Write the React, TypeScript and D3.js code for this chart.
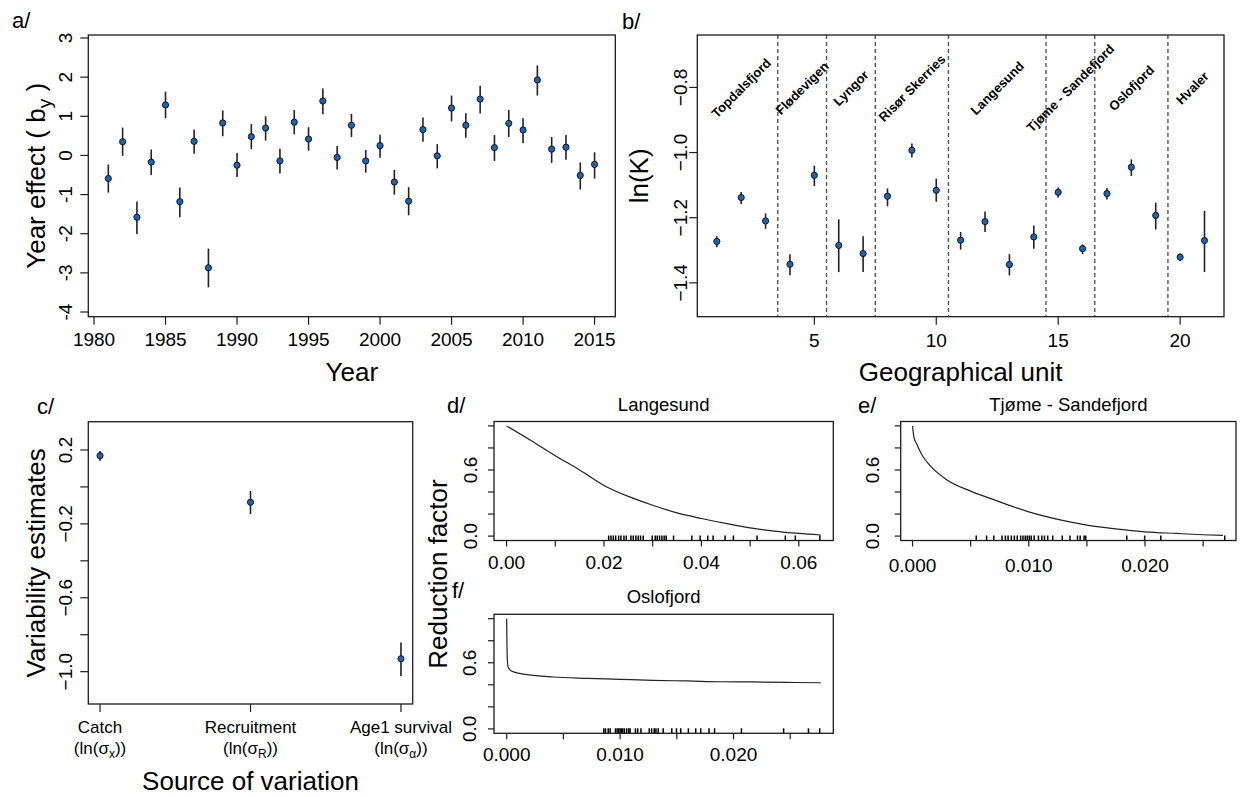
import React, { useRef, useEffect } from 'react';
import * as d3 from 'd3';

// a/ year effects (estimate with interval)
const years = [1981, 1982, 1983, 1984, 1985, 1986, 1987, 1988, 1989, 1990, 1991, 1992, 1993, 1994, 1995, 1996, 1997, 1998, 1999, 2000, 2001, 2002, 2003, 2004, 2005, 2006, 2007, 2008, 2009, 2010, 2011, 2012, 2013, 2014, 2015];
const yearEffect = [-0.59, 0.35, -1.58, -0.17, 1.29, -1.18, 0.36, -2.87, 0.83, -0.25, 0.48, 0.70, -0.14, 0.85, 0.42, 1.39, -0.05, 0.77, -0.14, 0.25, -0.68, -1.17, 0.66, -0.01, 1.21, 0.77, 1.44, 0.20, 0.82, 0.65, 1.93, 0.16, 0.21, -0.51, -0.23];
const yearLo = [-0.95, -0.01, -2.01, -0.50, 0.95, -1.58, 0.04, -3.37, 0.49, -0.55, 0.16, 0.38, -0.46, 0.54, 0.12, 1.05, -0.36, 0.47, -0.44, -0.06, -1.00, -1.53, 0.35, -0.33, 0.87, 0.45, 1.07, -0.14, 0.47, 0.31, 1.53, -0.19, -0.11, -0.87, -0.59];
const yearHi = [-0.23, 0.71, -1.18, 0.15, 1.63, -0.82, 0.66, -2.38, 1.15, 0.06, 0.80, 1.00, 0.17, 1.16, 0.72, 1.71, 0.24, 1.06, 0.14, 0.53, -0.37, -0.81, 0.97, 0.29, 1.53, 1.08, 1.78, 0.52, 1.16, 0.95, 2.30, 0.47, 0.52, -0.18, 0.08];
const yearTicks = [1980, 1985, 1990, 1995, 2000, 2005, 2010, 2015];
const effectTicks = [-4, -3, -2, -1, 0, 1, 2, 3];

// b/ ln(K) per geographical unit
const units = [1, 2, 3, 4, 5, 6, 7, 8, 9, 10, 11, 12, 13, 14, 15, 16, 17, 18, 19, 20, 21];
const lnK = [-1.273, -1.138, -1.210, -1.343, -1.070, -1.285, -1.310, -1.134, -0.993, -1.116, -1.269, -1.212, -1.344, -1.259, -1.122, -1.295, -1.126, -1.045, -1.193, -1.321, -1.270];
const lnKLo = [-1.291, -1.158, -1.234, -1.377, -1.103, -1.367, -1.367, -1.165, -1.015, -1.151, -1.298, -1.244, -1.377, -1.295, -1.138, -1.312, -1.144, -1.072, -1.236, -1.334, -1.367];
const lnKHi = [-1.257, -1.121, -1.187, -1.312, -1.040, -1.205, -1.257, -1.110, -0.972, -1.080, -1.244, -1.181, -1.312, -1.224, -1.107, -1.282, -1.109, -1.021, -1.154, -1.310, -1.179];
const regionNames = ['Topdalsfjord', 'Flødevigen', 'Lyngor', 'Risør Skerries', 'Langesund', 'Tjøme - Sandefjord', 'Oslofjord', 'Hvaler'];
const regionCentres = [2, 4.5, 6.5, 9, 12.5, 15.5, 18, 20.5];
const regionBreaks = [3.5, 5.5, 7.5, 10.5, 14.5, 16.5, 19.5];
const unitTicks = [5, 10, 15, 20];
const lnKTicks = [-1.4, -1.2, -1.0, -0.8];

// c/ variability estimates
const sources = ['Catch', 'Recruitment', 'Age1 survival'];
const sourceSubs = ['x', 'R', 'α'];
const varEst = [0.169, -0.083, -0.93];
const varLo = [0.142, -0.147, -1.023];
const varHi = [0.195, -0.022, -0.842];
const varTicks = [-1.0, -0.8, -0.6, -0.4, -0.2, 0.0, 0.2];
const varLabelled = [-1.0, -0.6, -0.2, 0.2];

// d/ e/ f/ reduction factor curves and rugs
const langX = [0, 0.005, 0.01, 0.015, 0.02, 0.025, 0.03, 0.035, 0.04, 0.045, 0.05, 0.055, 0.06, 0.0645];
const langY = [1.0, 0.868, 0.73, 0.60, 0.46, 0.36, 0.28, 0.21, 0.16, 0.115, 0.075, 0.045, 0.024, 0.01];
const langRug = [0.02096, 0.02143, 0.02191, 0.02239, 0.02301, 0.02348, 0.0241, 0.02458, 0.02553, 0.02601, 0.02656, 0.02704, 0.02751, 0.02806, 0.0299, 0.03052, 0.03093, 0.03141, 0.03189, 0.03236, 0.03277, 0.03428, 0.03803, 0.03974, 0.04131, 0.0424, 0.04486, 0.04657, 0.05142, 0.05723, 0.05928, 0.06433];

const tjomeX = [0, 0.00011, 0.00034, 0.0009, 0.00147, 0.0029, 0.005, 0.0071, 0.01, 0.0128, 0.015, 0.0171, 0.02, 0.0227, 0.025, 0.0267];
const tjomeY = [1.0, 0.90, 0.84, 0.72, 0.644, 0.514, 0.408, 0.326, 0.22, 0.145, 0.10, 0.07, 0.039, 0.024, 0.012, 0.006];
const tjomeRug = [0.00548, 0.00637, 0.00699, 0.0077, 0.00799, 0.00822, 0.0085, 0.00876, 0.00901, 0.0093, 0.0095, 0.0097, 0.00987, 0.01004, 0.01021, 0.01046, 0.01083, 0.01112, 0.01135, 0.01163, 0.01206, 0.01288, 0.01354, 0.01419, 0.01442, 0.01476, 0.0149, 0.01843, 0.01997, 0.02136, 0.02686];

const osloX = [0, 0.00005, 0.00015, 0.0006, 0.0018, 0.0041, 0.0071, 0.01, 0.0129, 0.0159, 0.0188, 0.0217, 0.0247, 0.0277];
const osloY = [1.0, 0.63, 0.553, 0.517, 0.492, 0.471, 0.459, 0.45, 0.44, 0.435, 0.428, 0.426, 0.422, 0.419];
const osloRug = [0.00857, 0.00871, 0.00895, 0.00912, 0.00959, 0.00974, 0.00988, 0.01, 0.01012, 0.01023, 0.01038, 0.01058, 0.01076, 0.01088, 0.01135, 0.01155, 0.01184, 0.01257, 0.01278, 0.01301, 0.01316, 0.01336, 0.0138, 0.01456, 0.01497, 0.01535, 0.01602, 0.01667, 0.01711, 0.01784, 0.01833, 0.0207, 0.02442, 0.02661, 0.0276];

const langTicks = [0, 0.01, 0.02, 0.03, 0.04, 0.05, 0.06];
const langLabelled = [0, 0.02, 0.04, 0.06];
const smallTicks = [0, 0.005, 0.01, 0.015, 0.02, 0.025];
const smallLabelled = [0, 0.01, 0.02];
const rfTicks = [0, 0.2, 0.4, 0.6, 0.8, 1.0];
const rfLabelled = [0, 0.6];

const FONT = "'Liberation Sans', Arial, Helvetica, sans-serif";
const INK = '#1c1c1c';
const DOT = '#1f63b3';

type Box = { x0: number; x1: number; y0: number; y1: number };

const App = () => {
  const svgRef = useRef<SVGSVGElement>(null);

  useEffect(() => {
    const svg = d3.select(svgRef.current);
    svg.selectAll('*').remove();

    // R-like frame: box, outward ticks, tick labels (y labels rotated)
    const frame = (box: Box, x: any, y: any, o: any) => {
      const g = svg.append('g');
      g.append('rect')
        .attr('x', box.x0).attr('y', box.y0)
        .attr('width', box.x1 - box.x0).attr('height', box.y1 - box.y0)
        .attr('fill', 'none').attr('stroke', INK).attr('stroke-width', 1.3);

      g.selectAll('.xt').data(o.xTicks).join('line')
        .attr('x1', (d: number) => x(d)).attr('x2', (d: number) => x(d))
        .attr('y1', box.y1).attr('y2', box.y1 + o.tick)
        .attr('stroke', INK).attr('stroke-width', 1.2);
      g.selectAll('.yt').data(o.yTicks).join('line')
        .attr('y1', (d: number) => y(d)).attr('y2', (d: number) => y(d))
        .attr('x1', box.x0).attr('x2', box.x0 - o.tick)
        .attr('stroke', INK).attr('stroke-width', 1.2);

      if (o.xLabels) {
        g.selectAll('.xl').data(o.xLabels).join('text')
          .attr('x', (d: number) => x(d)).attr('y', box.y1 + o.xOff)
          .attr('text-anchor', 'middle')
          .attr('font-family', FONT).attr('font-size', 19).attr('fill', '#000')
          .text((d: number) => o.xFmt(d));
      }
      g.selectAll('.yl').data(o.yLabels).join('text')
        .attr('transform', (d: number) => `translate(${box.x0 - o.yOff},${y(d)}) rotate(-90)`)
        .attr('text-anchor', 'middle')
        .attr('font-family', FONT).attr('font-size', 19).attr('fill', '#000')
        .text((d: number) => o.yFmt(d));
    };

    const errorPoints = (xs: number[], est: number[], lo: number[], hi: number[], x: any, y: any) => {
      const g = svg.append('g');
      g.selectAll('line').data(xs).join('line')
        .attr('x1', d => x(d)).attr('x2', d => x(d))
        .attr('y1', (d, i) => y(lo[i])).attr('y2', (d, i) => y(hi[i]))
        .attr('stroke', '#222').attr('stroke-width', 1.6);
      g.selectAll('circle').data(xs).join('circle')
        .attr('cx', d => x(d)).attr('cy', (d, i) => y(est[i]))
        .attr('r', 3.1)
        .attr('fill', DOT).attr('stroke', '#0a0a0a').attr('stroke-width', 0.9);
    };

    const label = (txt: string, px: number, py: number, size: number, opts: any = {}) => {
      const t = svg.append('text')
        .attr('x', px).attr('y', py)
        .attr('font-family', FONT).attr('font-size', size).attr('fill', '#000')
        .attr('text-anchor', opts.anchor || 'start')
        .text(txt);
      if (opts.weight) t.attr('font-weight', opts.weight);
      return t;
    };

    const vtitle = (px: number, py: number) =>
      svg.append('text')
        .attr('transform', `translate(${px},${py}) rotate(-90)`)
        .attr('text-anchor', 'middle')
        .attr('font-family', FONT).attr('font-size', 26).attr('fill', '#000');

    // ---------- a/ ----------
    const boxA = { x0: 88.3, x1: 615.3, y0: 35, y1: 316.7 };
    const xA = d3.scaleLinear().domain([1979.6, 2016.45]).range([boxA.x0, boxA.x1]);
    const yA = d3.scaleLinear().domain([-4.12, 3.077]).range([boxA.y1, boxA.y0]);
    frame(boxA, xA, yA, {
      xTicks: yearTicks, yTicks: effectTicks, tick: 8,
      xLabels: yearTicks, xFmt: (d: number) => String(d), xOff: 29,
      yLabels: effectTicks, yFmt: (d: number) => String(d), yOff: 16.6,
    });
    errorPoints(years, yearEffect, yearLo, yearHi, xA, yA);
    label('a/', 12, 28, 22);
    label('Year', (boxA.x0 + boxA.x1) / 2, 381, 26, { anchor: 'middle' });
    const tA = vtitle(45, (boxA.y0 + boxA.y1) / 2);
    tA.append('tspan').text('Year effect ( b');
    tA.append('tspan').attr('font-size', 19).attr('dy', 6).text('y');
    tA.append('tspan').attr('dy', -6).text(' )');

    // ---------- b/ ----------
    const boxB = { x0: 697.3, x1: 1224, y0: 35, y1: 316.7 };
    const xB = d3.scaleLinear().domain([0.2, 21.8]).range([boxB.x0, boxB.x1]);
    const yB = d3.scaleLinear().domain([-1.504, -0.639]).range([boxB.y1, boxB.y0]);
    svg.append('g').selectAll('line').data(regionBreaks).join('line')
      .attr('x1', d => xB(d)).attr('x2', d => xB(d))
      .attr('y1', boxB.y0).attr('y2', boxB.y1)
      .attr('stroke', '#555').attr('stroke-width', 1.4).attr('stroke-dasharray', '4,3');
    frame(boxB, xB, yB, {
      xTicks: unitTicks, yTicks: lnKTicks, tick: 8,
      xLabels: unitTicks, xFmt: (d: number) => String(d), xOff: 30,
      yLabels: lnKTicks, yFmt: d3.format('.1f'), yOff: 10.6,
    });
    errorPoints(units, lnK, lnKLo, lnKHi, xB, yB);
    svg.append('g').selectAll('text').data(regionNames).join('text')
      .attr('transform', (d, i) => `translate(${xB(regionCentres[i])},${yB(-0.802)}) rotate(-45)`)
      .attr('text-anchor', 'middle').attr('dy', '0.35em')
      .attr('font-family', FONT).attr('font-size', 13).attr('font-weight', 'bold').attr('fill', '#000')
      .text(d => d);
    label('b/', 622, 29, 22);
    label('Geographical unit', (boxB.x0 + boxB.x1) / 2, 381, 26, { anchor: 'middle' });
    vtitle(648, (boxB.y0 + boxB.y1) / 2).text('ln(K)');

    // ---------- c/ ----------
    const boxC = { x0: 88.3, x1: 412.7, y0: 421.7, y1: 704 };
    const xC = d3.scaleLinear().domain([0.922, 3.078]).range([boxC.x0, boxC.x1]);
    const yC = d3.scaleLinear().domain([-1.175, 0.353]).range([boxC.y1, boxC.y0]);
    const srcIdx = sources.map((s, i) => i + 1);
    frame(boxC, xC, yC, {
      xTicks: srcIdx, yTicks: varTicks, tick: 8,
      yLabels: varLabelled, yFmt: d3.format('.1f'), yOff: 16.3,
    });
    errorPoints(srcIdx, varEst, varLo, varHi, xC, yC);
    sources.forEach((s, i) => {
      label(s, xC(i + 1), 733, 17, { anchor: 'middle' });
      const t = label('', xC(i + 1), 754, 17, { anchor: 'middle' });
      t.append('tspan').text('(ln(σ');
      t.append('tspan').attr('font-size', 12).attr('dy', 4).text(sourceSubs[i]);
      t.append('tspan').attr('dy', -4).text('))');
    });
    label('c/', 37, 414, 22);
    label('Source of variation', (boxC.x0 + boxC.x1) / 2, 790, 26, { anchor: 'middle' });
    vtitle(45, (boxC.y0 + boxC.y1) / 2).text('Variability estimates');

    // ---------- d/ e/ f/ ----------
    const curvePanel = (box: Box, dom: number[], xs: number[], ys: number[], rug: number[], o: any) => {
      const x = d3.scaleLinear().domain(dom).range([box.x0, box.x1]);
      const y = d3.scaleLinear().domain([-0.04, 1.04]).range([box.y1, box.y0]);
      const line = d3.line<number>()
        .x(d => x(d))
        .y((d, i) => y(ys[i]))
        .curve(d3.curveMonotoneX);
      svg.append('path').datum(xs).attr('d', line)
        .attr('fill', 'none').attr('stroke', '#222').attr('stroke-width', 1.2);
      svg.append('g').selectAll('line').data(rug).join('line')
        .attr('x1', d => x(d)).attr('x2', d => x(d))
        .attr('y1', box.y1).attr('y2', box.y1 - 5)
        .attr('stroke', '#000').attr('stroke-width', 1.5);
      frame(box, x, y, {
        xTicks: o.xTicks, yTicks: rfTicks, tick: 6,
        xLabels: o.xLabels, xFmt: o.xFmt, xOff: o.xOff,
        yLabels: rfLabelled, yFmt: d3.format('.1f'), yOff: o.yOff,
      });
      label(o.title, (box.x0 + box.x1) / 2, o.titleY, 18.5, { anchor: 'middle' });
    };

    const boxD = { x0: 494, x1: 833.3, y0: 421.5, y1: 540.5 };
    curvePanel(boxD, [-0.00258, 0.06708], langX, langY, langRug, {
      xTicks: langTicks, xLabels: langLabelled, xFmt: d3.format('.2f'), xOff: 28.5, yOff: 17,
      title: 'Langesund', titleY: 411,
    });
    label('d/', 447, 413, 22);

    const boxE = { x0: 900.7, x1: 1236, y0: 421.5, y1: 540.5 };
    curvePanel(boxE, [-0.00102, 0.02783], tjomeX, tjomeY, tjomeRug, {
      xTicks: smallTicks, xLabels: smallLabelled, xFmt: d3.format('.3f'), xOff: 31, yOff: 22,
      title: 'Tjøme - Sandefjord', titleY: 411,
    });
    label('e/', 858, 413, 22);

    const boxF = { x0: 494, x1: 833.3, y0: 614.3, y1: 733.3 };
    curvePanel(boxF, [-0.00112, 0.0288], osloX, osloY, osloRug, {
      xTicks: smallTicks, xLabels: smallLabelled, xFmt: d3.format('.3f'), xOff: 28, yOff: 18,
      title: 'Oslofjord', titleY: 603,
    });
    label('f/', 452, 598, 22);

    vtitle(447, 574).text('Reduction factor');
  }, []);

  return (
    <div style={{ position: 'absolute', left: 0, top: 0 }}>
      <svg ref={svgRef} width={1244} height={797} style={{ display: 'block', background: '#fff' }} />
    </div>
  );
};

export default App;
